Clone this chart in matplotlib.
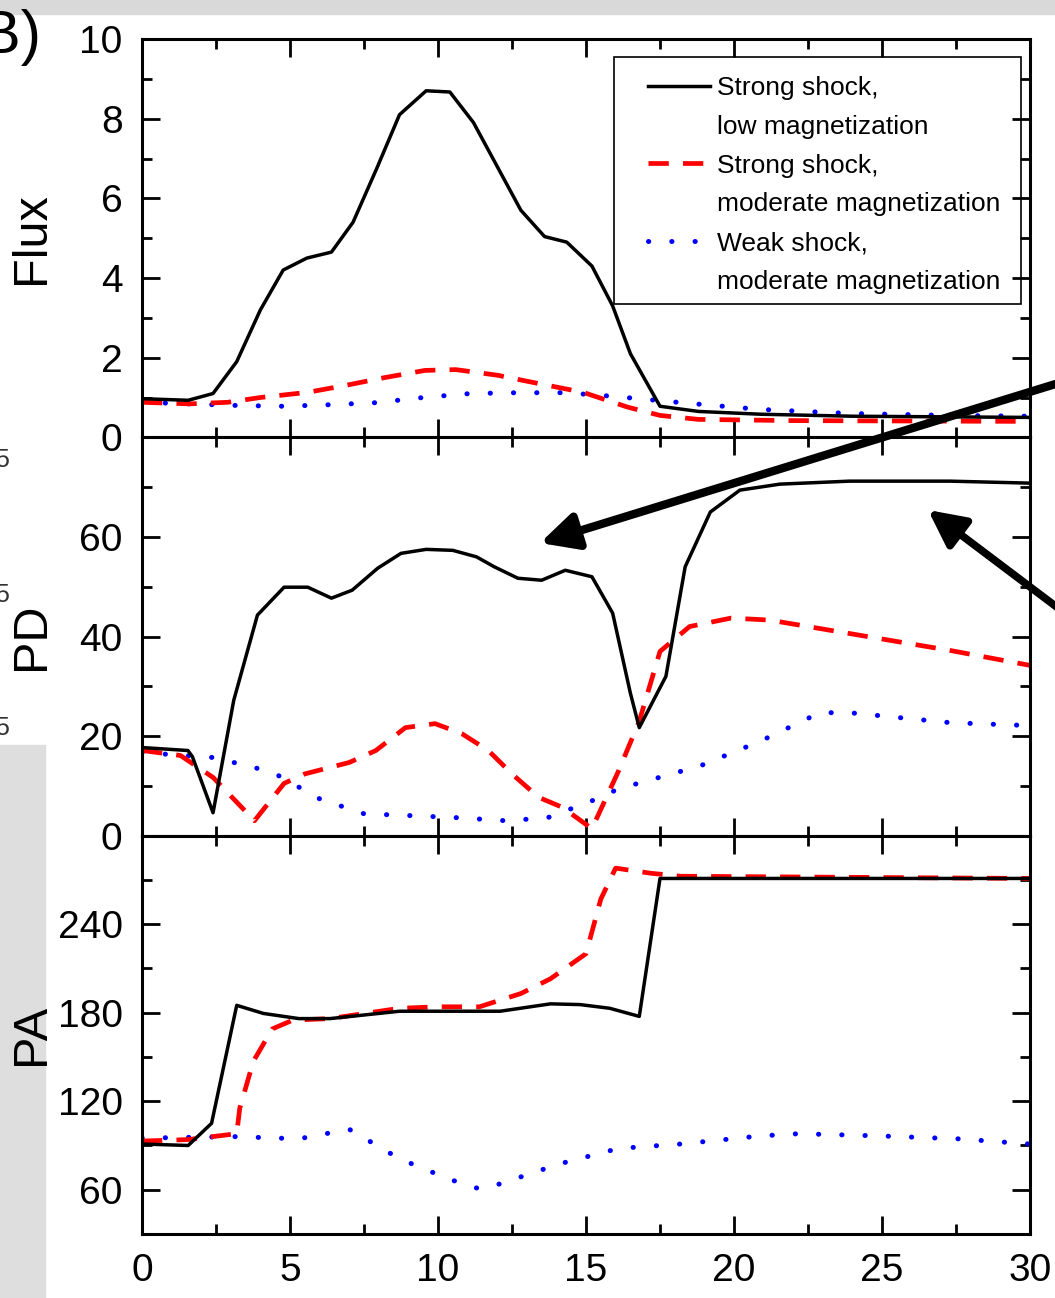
import matplotlib
matplotlib.use("Agg")
import matplotlib.pyplot as plt
from matplotlib.patches import Rectangle, FancyArrowPatch
from matplotlib.lines import Line2D

plt.rcParams["font.family"] = ["Liberation Sans", "DejaVu Sans"]

# ---- data ----
labels = ["Strong shock,\nlow magnetization",
          "Strong shock,\nmoderate magnetization",
          "Weak shock,\nmoderate magnetization"]

# Flux
flux_x_a = [0, 1.56, 2.4, 3.2, 4.0, 4.77, 5.57, 6.4, 7.13, 7.93, 8.7, 9.6, 10.4, 11.2, 12.0,
            12.8, 13.6, 14.35, 15.2, 15.9, 16.5, 17.5, 18.8, 20.9, 24, 30]
flux_a = [0.97, 0.93, 1.1, 1.9, 3.2, 4.2, 4.5, 4.65, 5.4, 6.75, 8.1, 8.7, 8.67, 7.9, 6.8,
          5.7, 5.04, 4.9, 4.3, 3.3, 2.1, 0.78, 0.65, 0.58, 0.53, 0.5]
flux_x_b = [0, 1.6, 2.9, 4.0, 5.6, 6.85, 8.2, 9.56, 10.6, 12.0, 13.4, 14.9, 16.4, 17.5, 18.8, 22, 30]
flux_b = [0.88, 0.84, 0.88, 1.0, 1.13, 1.3, 1.5, 1.68, 1.7, 1.56, 1.35, 1.13, 0.76, 0.55, 0.45, 0.42, 0.4]
flux_x_c = [0, 1.6, 3.2, 4.8, 6.4, 7.9, 9.5, 11.1, 12.7, 14.3, 15.9, 17.8, 18.85, 20.9, 23.9, 27.3, 30]
flux_c = [0.88, 0.84, 0.8, 0.78, 0.82, 0.87, 1.0, 1.1, 1.12, 1.12, 1.03, 0.9, 0.83, 0.7, 0.6, 0.55, 0.53]

# PD
pd_x_a = [0, 1.55, 1.7, 2.4, 3.1, 3.9, 4.8, 5.6, 6.4, 7.1, 7.96, 8.75, 9.6, 10.5, 11.3, 11.9,
          12.7, 13.5, 14.3, 15.2, 15.9, 16.5, 16.8, 17.7, 18.35, 19.2, 20.2, 21.55, 23.9, 27.3, 30]
pd_a = [17.7, 17.1, 15.9, 4.6, 27.2, 44.3, 49.9, 49.9, 47.7, 49.3, 53.7, 56.7, 57.5, 57.3, 56, 54,
        51.7, 51.3, 53.3, 52, 44.7, 28.6, 21.7, 32, 54, 65, 69.4, 70.6, 71.2, 71.2, 70.8]
pd_x_b = [0, 1.3, 2.4, 3.8, 4.8, 5.5, 7.0, 7.9, 8.9, 9.9, 10.8, 11.7, 12.5, 13.4, 14.2, 15.2,
          16.1, 16.8, 17.5, 18.5, 19.9, 21.2, 22.2, 24.9, 27.3, 30]
pd_b = [17.1, 16.1, 11.7, 3.0, 10.5, 12.4, 14.7, 17.1, 21.7, 22.5, 20.5, 17.1, 12.4, 7.7, 5.7, 1.4,
        13, 23, 37, 42, 43.7, 43.3, 42.3, 39.6, 37.2, 34.2]
pd_x_c = [0, 2.4, 3.8, 4.6, 6.0, 7.5, 9.2, 10.7, 12.3, 13.7, 15.2, 16.1, 18.85, 20.9, 22.9, 23.9,
          25.6, 27.3, 30]
pd_c = [16.7, 15.7, 13.7, 12.1, 7.4, 4.4, 4.0, 3.6, 3.0, 3.6, 7.0, 9.4, 14, 19, 24.7, 24.7,
        23.7, 22.7, 22.1]

# PA
pa_x_a = [0, 1.56, 2.35, 3.2, 4.1, 5.3, 6.35, 8.7, 10, 12.1, 13.8, 14.8, 15.8, 16.8, 17.5, 18.2, 30]
pa_a = [91, 90, 105, 185, 179.5, 176, 176, 181, 181, 181, 186, 185.5, 183, 177.5, 271, 271, 271]
pa_x_b = [0, 1.56, 3.2, 3.3, 3.76, 4.4, 5.1, 6.35, 8.7, 10, 11.4, 12.8, 13.8, 15.0, 15.5, 16.0,
          17.2, 18.2, 30]
pa_b = [93, 94, 98, 115, 147, 169, 175, 176, 183, 184, 184, 193, 203, 220, 257, 278,
        274.5, 272.5, 271]
pa_x_c = [0, 3.2, 5.3, 7.0, 8.7, 10.4, 11.4, 12.1, 14.1, 16.1, 18.2, 20.9, 22.2, 24.9, 27.6, 30]
pa_c = [95, 96, 94.5, 101, 81, 67, 60.6, 64, 77.5, 88, 91, 96.5, 98, 96.5, 94.5, 91]

W, H = 1055, 1298
fig, axes = plt.subplots(3, 1, sharex=True, figsize=(W / 100, H / 100), dpi=100)
fig.subplots_adjust(left=142 / W, right=1030 / W, bottom=1 - 1234 / H, top=1 - 39 / H, hspace=0)

black = dict(color="black", lw=2.5)
red = dict(color="red", lw=3.4, dashes=(4.3, 3.0))
blue = dict(color="blue", lw=3.6, dashes=(0.05, 4.6), dash_capstyle="round")

panels = [
    (axes[0], flux_x_a, flux_a, flux_x_b, flux_b, flux_x_c, flux_c),
    (axes[1], pd_x_a, pd_a, pd_x_b, pd_b, pd_x_c, pd_c),
    (axes[2], pa_x_a, pa_a, pa_x_b, pa_b, pa_x_c, pa_c),
]
for ax, xa, ya, xb, yb, xc, yc in panels:
    ax.plot(xc, yc, **blue)
    ax.plot(xb, yb, **red)
    ax.plot(xa, ya, **black)
    ax.set_xlim(0, 30)
    ax.tick_params(which="both", direction="in", top=True, right=True, width=2,
                   labelsize=28, pad=14)
    ax.tick_params(which="major", length=13)
    ax.tick_params(which="minor", length=7)
    ax.set_xticks(range(0, 31, 5))
    ax.set_xticks([2.5 + 5 * i for i in range(6)], minor=True)
    for s in ax.spines.values():
        s.set_linewidth(2.2)

axes[0].set_ylim(0, 10)
axes[0].set_yticks(range(0, 11, 2))
axes[0].set_yticks(range(1, 10, 2), minor=True)
axes[0].set_ylabel("Flux", fontsize=35)

axes[1].set_ylim(0, 80)
axes[1].set_yticks([0, 20, 40, 60])
axes[1].set_yticks([10, 30, 50, 70], minor=True)
axes[1].set_ylabel("PD", fontsize=35)

axes[2].set_ylim(30, 300)
axes[2].set_yticks([60, 120, 180, 240])
axes[2].set_yticks([90, 150, 210, 270], minor=True)
axes[2].set_ylabel("PA", fontsize=35)

for ax in axes:
    ax.yaxis.set_label_coords(-0.099, 0.5)

# legend: two text rows per entry, handle on the first row; frame drawn separately
handles, texts = [], []
for st, lab in zip([black, red, blue], labels):
    first, second = lab.split("\n")
    handles.append(Line2D([], [], **st))
    texts.append(first)
    handles.append(Line2D([], [], color="none"))
    texts.append(second)
axes[0].legend(handles, texts, loc="upper left", bbox_to_anchor=((648 - 142) / 888, (436 - 76) / 397),
               prop={"size": 19}, handlelength=2.35, handletextpad=0.27, labelspacing=0.56,
               borderpad=0, borderaxespad=0, frameon=False)
axes[0].add_patch(Rectangle(((614 - 142) / 888, (436 - 303) / 397), 407 / 888, 246 / 397,
                            transform=axes[0].transAxes, fill=False, ec="black", lw=1.2, zorder=5))

# background scraps around the cropped figure (behind everything)
fig.patches.append(Rectangle((0, 1 - 14 / H), 1, 14 / H, transform=fig.transFigure,
                             color="#d9d9d9", zorder=-1))
fig.patches.append(Rectangle((0, 0), 45 / W, 1 - 745 / H, transform=fig.transFigure,
                             color="#dedede", zorder=-1))
fig.text(41 / W, 1 - 37 / H, "B)", fontsize=44, ha="right", va="center")
for yp in [460, 595, 728]:
    fig.text(2 / W, 1 - yp / H, "5", fontsize=18, ha="center", va="center", color="#333333")

# arrows
for (x0, y0), (x1, y1), lw in [((1062, 382), (540, 543), 6.0), ((1062, 611), (928, 510), 5.5)]:
    arr = FancyArrowPatch((x0 / W, 1 - y0 / H), (x1 / W, 1 - y1 / H),
                          transform=fig.transFigure, arrowstyle="-|>,head_length=1.1,head_width=0.55",
                          mutation_scale=20, lw=lw, color="black", shrinkA=0, shrinkB=0, zorder=5)
    fig.patches.append(arr)

fig.savefig("out.png", dpi=100)
